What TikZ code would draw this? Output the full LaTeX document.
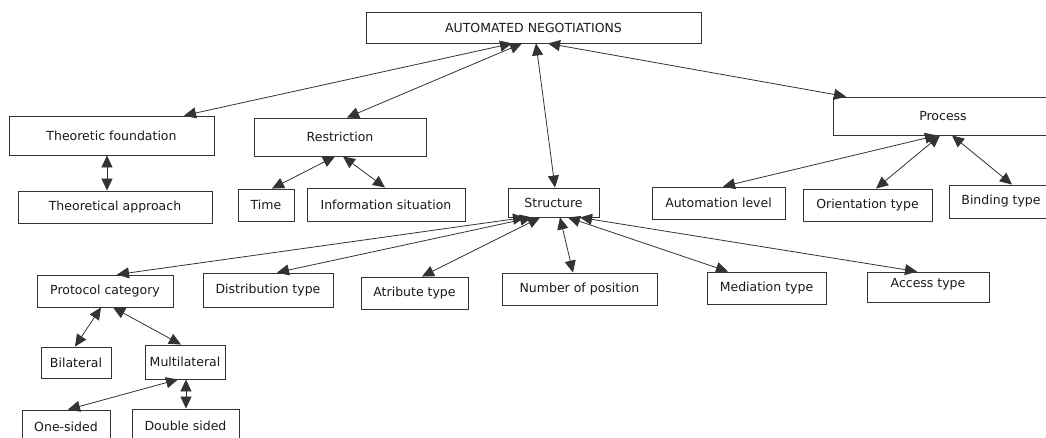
\documentclass[tikz,border=0pt]{standalone}
\usepackage{fontspec}
\setmainfont{DejaVu Sans}
\usetikzlibrary{arrows.meta}
\definecolor{boxline}{HTML}{333333}
\definecolor{txt}{HTML}{1A1A1A}
\tikzset{
  box/.style={draw=boxline, line width=0.9pt, rectangle, inner sep=0pt,
    font=\fontsize{12.5}{14}\selectfont, text=txt},
  dbl/.style={draw=boxline, line width=0.8pt,
    {Triangle[length=12pt,width=11pt]}-{Triangle[length=12pt,width=11pt]}},
}
\begin{document}
\begin{tikzpicture}[x=1pt,y=-1pt]
\useasboundingbox (0,0) rectangle (1046,438);
\fill[white] (0,0) rectangle (1046,438);
\clip (0,0) rectangle (1046,438);
% nodes
\node[box, minimum width=335, minimum height=31] (an) at (533.5,27.5) {AUTOMATED NEGOTIATIONS};
\node[box, minimum width=205, minimum height=39] (tf) at (111.5,135.5) {Theoretic foundation};
\node[box, minimum width=194, minimum height=32] (ta) at (115,207) {Theoretical approach};
\node[box, minimum width=172, minimum height=38] (res) at (340,137) {Restriction};
\node[box, minimum width=56, minimum height=32] (time) at (266,205) {Time};
\node[box, minimum width=158, minimum height=33] (info) at (386,204.5) {Information situation};
\node[box, minimum width=91, minimum height=29] (str) at (553.5,202.5) {Structure};
\node[box, minimum width=220, minimum height=38] (proc) at (943,116) {Process};
\node[box, minimum width=133, minimum height=32] (auto) at (718.5,203) {Automation level};
\node[box, minimum width=129, minimum height=32] (orient) at (867.5,205) {Orientation type};
\node[box, minimum width=104, minimum height=33] (bind) at (1001,201.5) {Binding type};
\node[box, minimum width=136, minimum height=32] (proto) at (105,291) {Protocol category};
\node[box, minimum width=130, minimum height=34] (dist) at (268,290) {Distribution type};
\node[box, minimum width=107, minimum height=32] (attr) at (414.5,293) {Atribute type};
\node[box, minimum width=155, minimum height=32] (num) at (579.5,289) {Number of position};
\node[box, minimum width=119, minimum height=32] (med) at (766.5,288) {Mediation type};
\node[box, minimum width=122, minimum height=30, text depth=8pt] (acc) at (928,287) {Access type};
\node[box, minimum width=70, minimum height=31] (bil) at (76,362.5) {Bilateral};
\node[box, minimum width=80, minimum height=34] (multi) at (185,362) {Multilateral};
\node[box, minimum width=88, minimum height=34] (one) at (66,427) {One-sided};
\node[box, minimum width=107, minimum height=34] (dbl) at (185.5,426) {Double sided};
% connectors
\draw[dbl] ([xshift=-21.5]an.south) -- ([xshift=72.5]tf.north);
\draw[dbl] ([xshift=-11.5]an.south) -- ([xshift=7]res.north);
\draw[dbl] ([xshift=2.5]an.south) -- ([xshift=1.5]str.north);
\draw[dbl] ([xshift=14.5]an.south) -- ([xshift=-97]proc.north);
\draw[dbl] ([xshift=-4.5]tf.south) -- ([xshift=-8]ta.north);
\draw[dbl] ([xshift=-5]res.south) -- ([xshift=6]time.north);
\draw[dbl] ([xshift=3]res.south) -- ([xshift=-1]info.north);
\draw[dbl] ([xshift=-6]proc.south) -- ([xshift=4.5]auto.north);
\draw[dbl] ([xshift=-3]proc.south) -- ([xshift=8.5]orient.north);
\draw[dbl] ([xshift=9]proc.south) -- ([xshift=11]bind.north);
\draw[dbl] ([xshift=-28.5]str.south) -- ([xshift=12]proto.north);
\draw[dbl] ([xshift=-21.5]str.south) -- ([xshift=9]dist.north);
\draw[dbl] ([xshift=-13.5]str.south) -- ([xshift=7.5]attr.north);
\draw[dbl] ([xshift=6.5]str.south) -- ([xshift=-6.5]num.north);
\draw[dbl] ([xshift=14.5]str.south) -- ([xshift=-38.5]med.north);
\draw[dbl] ([xshift=26.5]str.south) -- ([xshift=-11]acc.north);
\draw[dbl] ([xshift=-4]proto.south) -- ([xshift=-1]bil.north);
\draw[dbl] ([xshift=8]proto.south) -- ([xshift=-4]multi.north);
\draw[dbl] ([xshift=-7]multi.south) -- ([xshift=2]one.north);
\draw[dbl] ([xshift=1]multi.south) -- ([xshift=0.5]dbl.north);
\end{tikzpicture}
\end{document}
